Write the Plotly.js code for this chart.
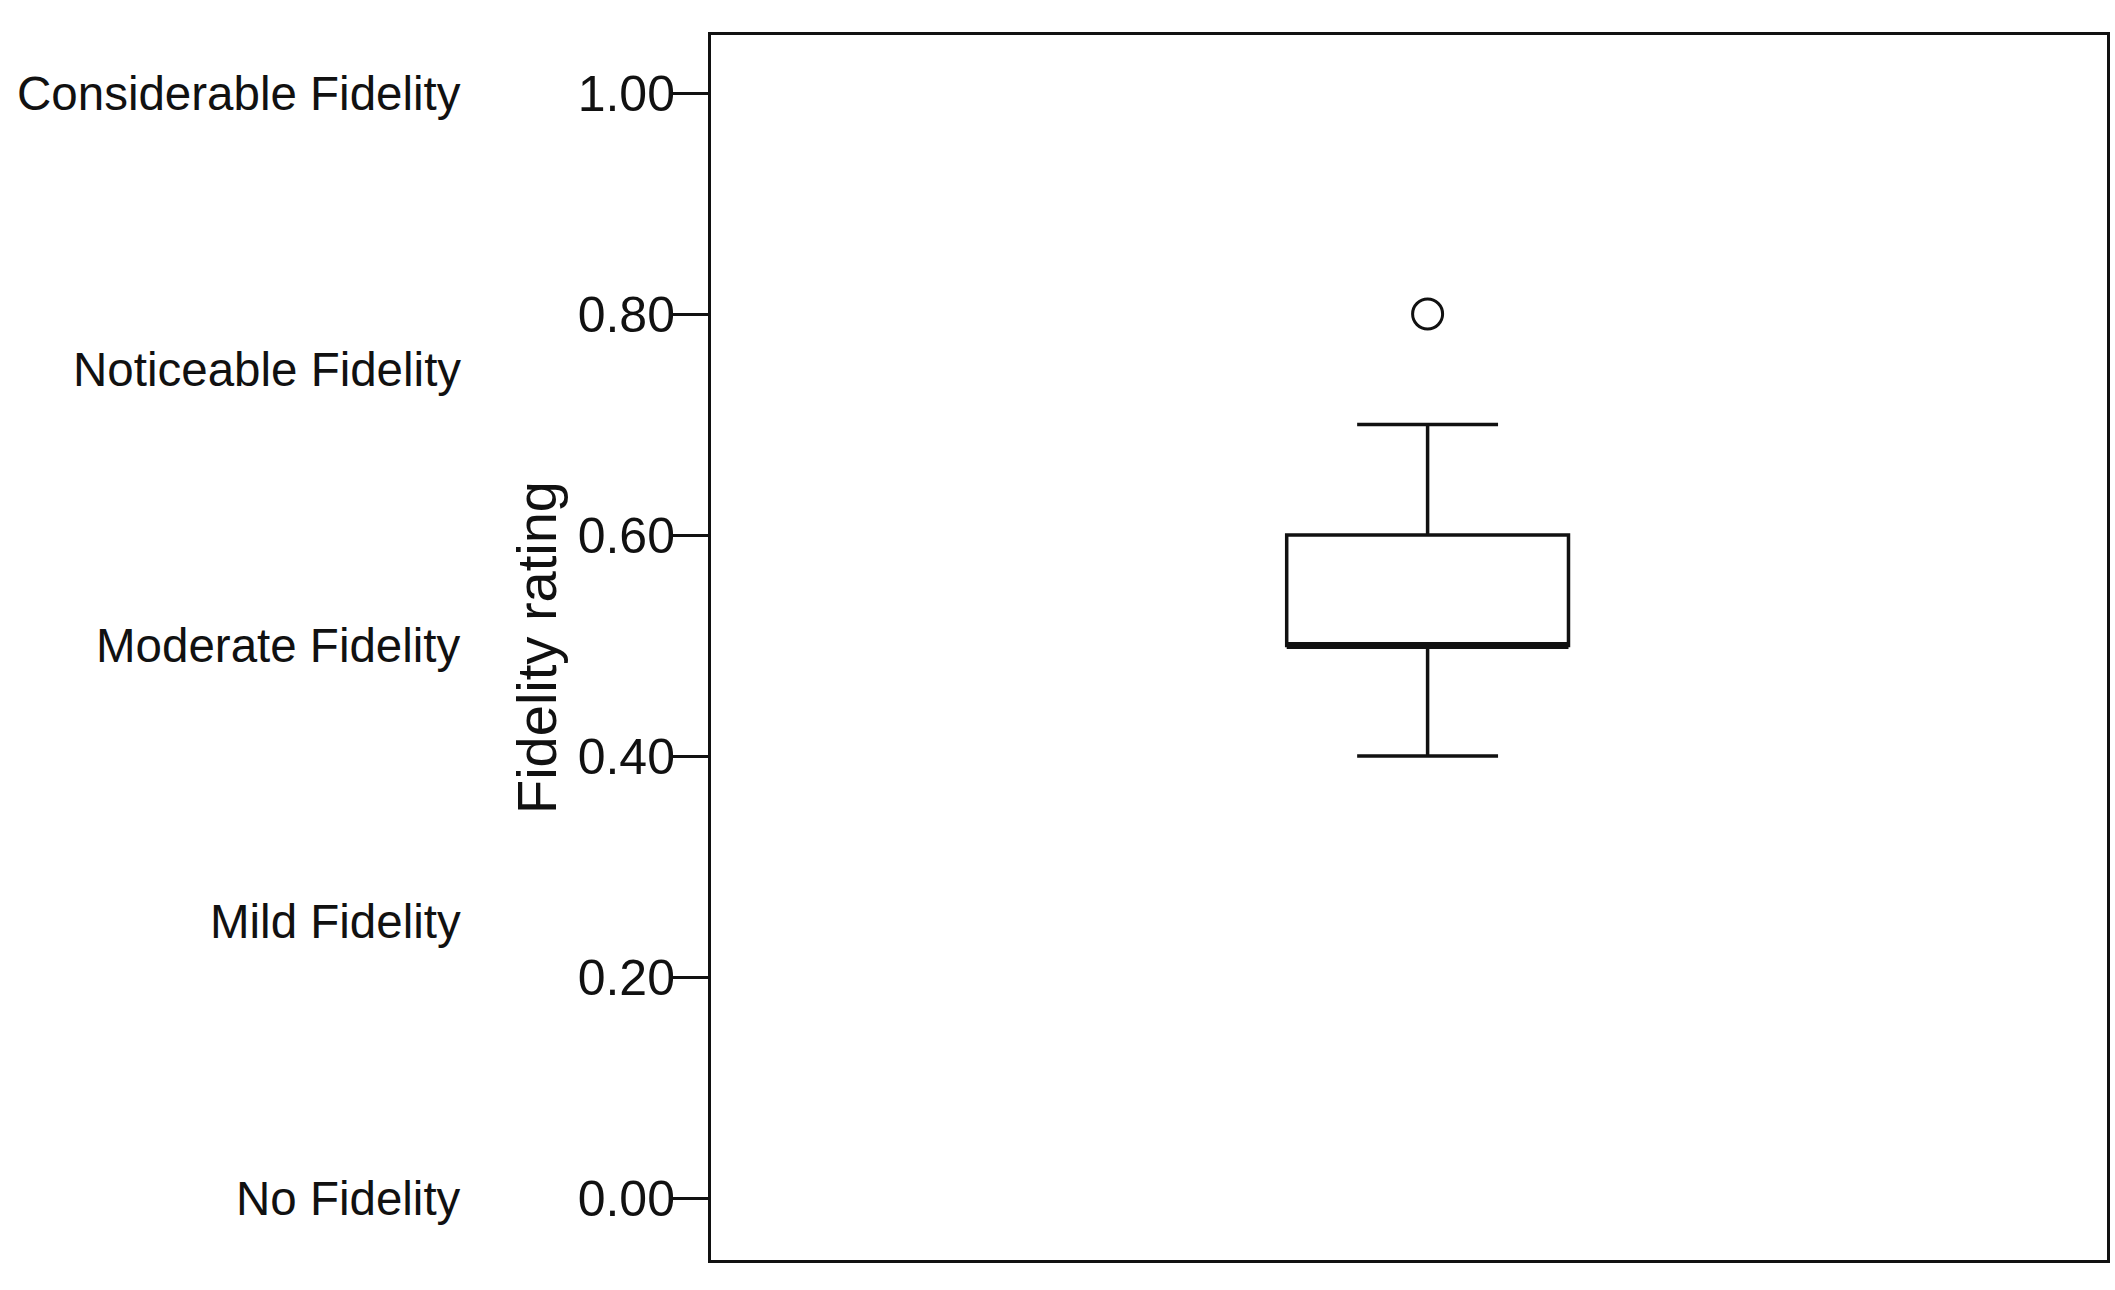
<!DOCTYPE html>
<html>
<head>
<meta charset="utf-8">
<script src="https://cdn.plot.ly/plotly-3.0.1.min.js"></script>
<style>html,body{margin:0;padding:0;background:#fff;}#chart{width:2115px;height:1290px;}</style>
</head>
<body>
<div id="chart"></div>
<script>
// Box statistics (Fidelity rating)
const boxPosition = [0];
const q1 = [0.5];
const median = [0.5];
const q3 = [0.6];
const lowerFence = [0.4];
const upperFence = [0.7];
const outliers = [0.8];

// Tick values and descriptive category labels
const tickValues = [0, 0.2, 0.4, 0.6, 0.8, 1.0];
const categoryLabels = ["Considerable Fidelity", "Noticeable Fidelity", "Moderate Fidelity", "Mild Fidelity", "No Fidelity"];
const categoryValues = [1.0, 0.75, 0.5, 0.25, 0.0];

const boxWidth = 1;
const FONT = "Liberation Sans, Arial, Helvetica, sans-serif";

const traces = [
  {
    type: 'box',
    x: boxPosition,
    q1: q1, median: median, q3: q3,
    lowerfence: lowerFence, upperfence: upperFence,
    width: boxWidth,
    whiskerwidth: 0.5,
    fillcolor: '#ffffff',
    line: {color: '#111111', width: 3.5},
    boxpoints: false,
    hoverinfo: 'skip',
    showlegend: false
  },
  {
    type: 'scatter', mode: 'lines',
    x: [boxPosition[0] - boxWidth / 2, boxPosition[0] + boxWidth / 2],
    y: [median[0], median[0]],
    line: {color: '#111111', width: 7},
    hoverinfo: 'skip', showlegend: false
  },
  {
    type: 'scatter', mode: 'markers',
    x: outliers.map(() => boxPosition[0]),
    y: outliers,
    marker: {symbol: 'circle-open', size: 30, color: '#111111', line: {width: 3, color: '#111111'}},
    hoverinfo: 'skip', showlegend: false
  }
];

const annotations = categoryLabels.map((t, i) => ({
  text: t, xref: 'paper', yref: 'y', x: -0.178, y: categoryValues[i],
  xanchor: 'right', yanchor: 'middle', showarrow: false,
  font: {family: FONT, size: 47.5, color: '#111111'}
}));

const layout = {
  width: 2115, height: 1290,
  margin: {l: 711, r: 8, t: 35, b: 30},
  paper_bgcolor: '#ffffff', plot_bgcolor: '#ffffff',
  showlegend: false,
  xaxis: {
    range: [-2.543, 2.411], showticklabels: false, ticks: '', showgrid: false, zeroline: false,
    showline: true, mirror: true, linecolor: '#111111', linewidth: 3, fixedrange: true
  },
  yaxis: {
    range: [-0.056, 1.0525], tickvals: tickValues, tickformat: '.2f',
    ticks: 'outside', ticklen: 35, tickwidth: 3, tickcolor: '#111111',
    ticklabelstandoff: -12,
    tickfont: {family: FONT, size: 50, color: '#111111'},
    showgrid: false, zeroline: false,
    showline: true, mirror: true, linecolor: '#111111', linewidth: 3,
    title: {text: 'Fidelity rating', font: {family: FONT, size: 56, color: '#111111'}, standoff: 4},
    automargin: false
  },
  annotations: annotations
};

Plotly.newPlot('chart', traces, layout, {staticPlot: true, displayModeBar: false});
</script>
</body>
</html>
